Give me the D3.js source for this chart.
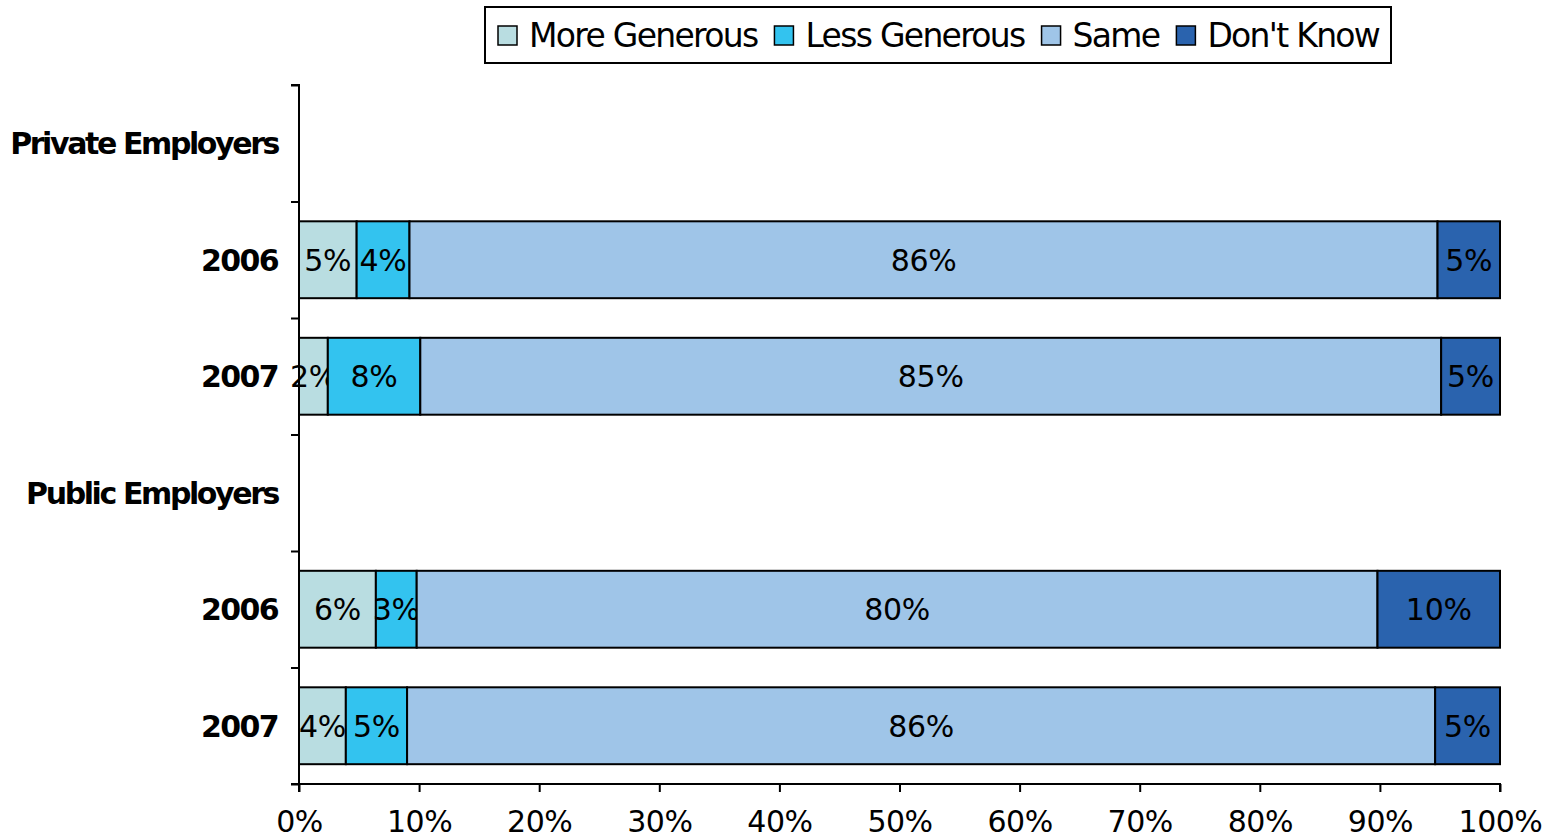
<!DOCTYPE html>
<html>
<head>
<meta charset="utf-8">
<script src="https://cdn.jsdelivr.net/npm/d3@7"></script>
<style>
  body { margin: 0; background: #fff; }
  svg { font-family: "DejaVu Sans", Verdana, sans-serif; }
</style>
</head>
<body>
<script>
// rows from top to bottom (group headers have no bar)
const rowLabels = ["Private Employers", "2006", "2007", "Public Employers", "2006", "2007"]
const seriesNames = ["More Generous", "Less Generous", "Same", "Don't Know"]
const moreGenerous = [null, 4.8, 2.4, null, 6.4, 3.9]
const lessGenerous = [null, 4.4, 7.7, null, 3.4, 5.1]
const same = [null, 85.6, 85.0, null, 80.0, 85.6]
const dontKnow = [null, 5.2, 4.9, null, 10.2, 5.4]
const xTicks = [0, 10, 20, 30, 40, 50, 60, 70, 80, 90, 100]
const colors = ["#b9dde1", "#33c3ef", "#9fc5e8", "#2a63ae"]

const w = 1554
const h = 840
const plotLeft = 299, plotRight = 1500, plotTop = 85, plotBottom = 784

const svg = d3.select("body").append("svg")
  .attr("width", w)
  .attr("height", h)

const table = rowLabels.map((label, i) => ({
  idx: i,
  "More Generous": moreGenerous[i],
  "Less Generous": lessGenerous[i],
  "Same": same[i],
  "Don't Know": dontKnow[i]
}))

const xScale = d3.scaleLinear().domain([0, 100]).range([plotLeft, plotRight])
const yScale = d3.scaleBand()
  .domain(d3.range(rowLabels.length))
  .range([plotTop, plotBottom])
  .paddingInner(0.34)
  .paddingOuter(0.17)
const yEdges = d3.scaleLinear().domain([0, rowLabels.length]).range([plotTop, plotBottom])

const stacked = d3.stack().keys(seriesNames)(table.filter(d => d["Same"] != null))

const groups = svg.selectAll("g.series")
  .data(stacked)
  .enter()
  .append("g")
  .attr("class", "series")
  .attr("fill", (d, i) => colors[i])

groups.selectAll("rect")
  .data(d => d)
  .enter()
  .append("rect")
  .attr("x", d => xScale(d[0]))
  .attr("y", d => yScale(d.data.idx))
  .attr("width", d => xScale(d[1]) - xScale(d[0]))
  .attr("height", yScale.bandwidth())
  .attr("stroke", "#000")
  .attr("stroke-width", 2)

groups.selectAll("text")
  .data(d => d)
  .enter()
  .append("text")
  .attr("x", d => (xScale(d[0]) + xScale(d[1])) / 2)
  .attr("y", d => yScale(d.data.idx) + yScale.bandwidth() / 2)
  .attr("dy", "0.36em")
  .attr("text-anchor", "middle")
  .attr("fill", "#000")
  .style("font-size", "30px")
  .style("letter-spacing", "-0.3px")
  .text(d => d3.format(".0f")(d[1] - d[0]) + "%")

// x axis
const xAxis = d3.axisBottom(xScale)
  .tickValues(xTicks)
  .tickSize(8)
  .tickFormat(d => d + "%")

const gx = svg.append("g")
  .attr("transform", "translate(0," + plotBottom + ")")
  .call(xAxis)
gx.select(".domain").attr("stroke", "#000").attr("stroke-width", 2).attr("d", "M" + plotLeft + ",8V0H" + plotRight + "V8")
gx.selectAll(".tick line").attr("stroke-width", 2)
gx.selectAll(".tick text")
  .attr("y", 27)
  .attr("dy", "0.71em")
  .style("font-size", "30px")
  .style("letter-spacing", "-0.5px")
  .attr("fill", "#000")
  .attr("font-family", "DejaVu Sans")

// y axis: ticks at band edges
const yAxis = d3.axisLeft(yEdges)
  .tickValues(d3.range(rowLabels.length + 1))
  .tickSize(8)
  .tickFormat("")
const gy = svg.append("g")
  .attr("transform", "translate(" + plotLeft + ",0)")
  .call(yAxis)
gy.select(".domain").attr("stroke-width", 2).attr("d", "M-8," + plotTop + "H0V" + plotBottom + "H-8")
gy.selectAll(".tick line").attr("stroke-width", 2)

svg.append("g")
  .selectAll("text")
  .data(rowLabels)
  .enter()
  .append("text")
  .attr("x", 278)
  .attr("y", (d, i) => yScale(i) + yScale.bandwidth() / 2)
  .attr("dy", "0.36em")
  .attr("text-anchor", "end")
  .style("font-size", "30px")
  .style("font-weight", "bold")
  .style("letter-spacing", (d, i) => (i === 0 || i === 3) ? "-2.4px" : "-1.6px")
  .text(d => d)

// legend
const legend = svg.append("g")
legend.append("rect")
  .attr("x", 485).attr("y", 7)
  .attr("width", 906).attr("height", 56)
  .attr("fill", "#fff")
  .attr("stroke", "#000")
  .attr("stroke-width", 2)

let lx = 498
seriesNames.forEach((name, i) => {
  legend.append("rect")
    .attr("x", lx).attr("y", 26)
    .attr("width", 19).attr("height", 19)
    .attr("fill", colors[i])
    .attr("stroke", "#000")
    .attr("stroke-width", 1.5)
  const t = legend.append("text")
    .attr("x", lx + 31)
    .attr("y", 47)
    .style("font-size", "33px")
    .style("letter-spacing", "-1.7px")
    .text(name)
  lx += 31 + t.node().getComputedTextLength() + 17
})
</script>
</body>
</html>
